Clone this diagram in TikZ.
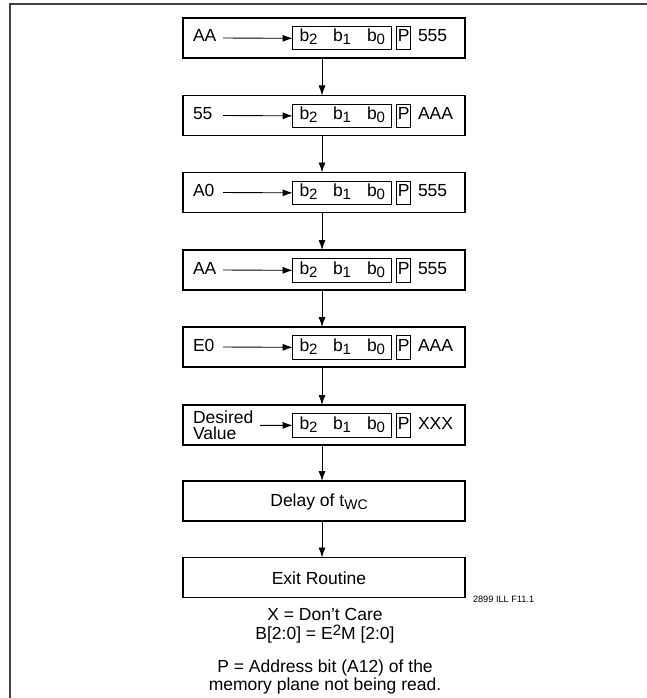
\documentclass[tikz,border=0pt]{standalone}
\usepackage{fontspec}
\setmainfont{Liberation Sans}
\usetikzlibrary{arrows.meta}
\newcommand\lowsub[1]{\raisebox{-3pt}{\fontsize{15}{15}\selectfont #1}}
\newcommand\highsup[1]{\raisebox{4pt}{\fontsize{15}{15}\selectfont #1}}
\begin{document}
\begin{tikzpicture}[x=1pt,y=-1pt,
  every node/.style={font=\fontsize{17.5}{17.5}\selectfont, inner sep=0pt, outer sep=0pt},
  outerbox/.style={draw, line width=1.1pt, minimum width=282pt, minimum height=40pt, anchor=north west},
  bitsbox/.style={draw, line width=1pt, minimum width=98.3pt, minimum height=23.3pt, anchor=north west},
  pbox/.style={draw, line width=1pt, minimum width=14pt, minimum height=23.3pt, anchor=north west},
  txt/.style={anchor=base west},
  note/.style={anchor=north, align=center, font=\fontsize{17.5}{17.2}\selectfont},
  harrow/.style={line width=0.9pt, -{Latex[length=10pt,width=7pt]}},
  varrow/.style={line width=0.9pt, -{Latex[length=10pt,width=7pt]}},
  frameline/.style={line width=1.6pt, draw=black!75}]
\useasboundingbox (0,0) rectangle (647,698);
\draw[frameline] (10,698) -- (10,4) -- (647,4);
% rows with data
\foreach \i/\t/\lab/\addr in {1/18/AA/555, 2/95.5/55/AAA, 3/172.5/A0/555, 4/250/AA/555, 5/327/E0/AAA}{
  \node[outerbox] (r\i) at (183,\t) {};
  \node[bitsbox] (bits\i) at (292.7,\t+8.7) {};
  \node[pbox] (p\i) at (396.7,\t+8.7) {};
  \node[txt] (bt\i) at (299.5,\t+24) {\makebox[33.5pt][l]{b\lowsub{2}}\makebox[34pt][l]{b\lowsub{1}}b\lowsub{0}};
  \node[anchor=base] (pt\i) at (403.7,\t+24) {P};
  \node[txt] (ad\i) at (418,\t+24) {\addr};
  \node[txt] (lab\i) at (193,\t+24) {\lab};
  \draw[harrow] (223,\t+20) -- (bits\i.west);
}
% desired value row
\node[outerbox] (r6) at (183,405) {};
\node[bitsbox] (bits6) at (292.7,413.7) {};
\node[pbox] (p6) at (396.7,413.7) {};
\node[txt] (bt6) at (299.5,429) {\makebox[33.5pt][l]{b\lowsub{2}}\makebox[34pt][l]{b\lowsub{1}}b\lowsub{0}};
\node[anchor=base] (pt6) at (403.7,429) {P};
\node[txt] (ad6) at (418,429) {XXX};
\node[txt] (lab6a) at (193,423.5) {Desired};
\node[txt] (lab6b) at (193,439.5) {Value};
\draw[harrow] (260,425.3) -- (bits6.west);
% delay and exit
\node[outerbox] (r7) at (183,481) {};
\node[anchor=base] (t7) at (319,506) {Delay of t\lowsub{\fontsize{14}{14}\selectfont WC}};
\node[outerbox] (r8) at (183,557.5) {};
\node[anchor=base] (t8) at (319,584) {Exit Routine};
% vertical arrows
\foreach \a/\b in {1/2,2/3,3/4,4/5,5/6,6/7,7/8}{
  \draw[varrow] ([xshift=-2pt]r\a.south) -- ([xshift=-2pt]r\b.north);
}
% notes
\node[anchor=base west, font=\fontsize{9.2}{9.2}\selectfont] (ill) at (473,602) {2899 ILL F11.1};
\node[note, font=\fontsize{17.5}{19.2}\selectfont] (n1) at (325,608.3) {X = Don't Care\\B[2:0] = E\highsup{2}M [2:0]};
\node[note] (n3) at (325,660.3) {P = Address bit (A12) of the\\memory plane not being read.};
\end{tikzpicture}
\end{document}
